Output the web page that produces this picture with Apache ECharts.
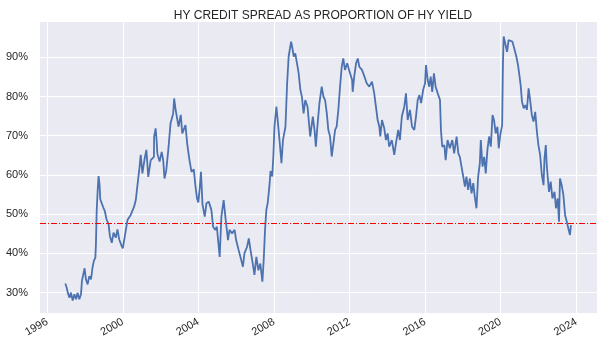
<!DOCTYPE html>
<html>
<head>
<meta charset="utf-8">
<script src="https://cdn.jsdelivr.net/npm/echarts@6/dist/echarts.min.js"></script>
<style>
  html, body { margin: 0; padding: 0; background: #fff; }
  #chart { width: 610px; height: 352px; }
</style>
</head>
<body>
<div id="chart"></div>
<script>
// dates as decimal years, values in percent
const years = [
  1996.96, 1997.03, 1997.09, 1997.18, 1997.26, 1997.35, 1997.44, 1997.53, 1997.61, 1997.70,
  1997.79, 1997.84, 1997.91, 1997.98, 1998.05, 1998.14, 1998.23, 1998.32, 1998.40, 1998.47,
  1998.55, 1998.58, 1998.62, 1998.67, 1998.72, 1998.77, 1998.81, 1998.90, 1998.97, 1999.05,
  1999.14, 1999.25, 1999.32, 1999.42, 1999.51, 1999.63, 1999.72, 1999.81, 1999.94, 2000.00,
  2000.08, 2000.16, 2000.25, 2000.42, 2000.60, 2000.69, 2000.77, 2000.90, 2000.95, 2001.04,
  2001.16, 2001.25, 2001.35, 2001.48, 2001.65, 2001.66, 2001.74, 2001.79, 2001.83, 2001.95,
  2002.06, 2002.14, 2002.21, 2002.30, 2002.41, 2002.53, 2002.67, 2002.72, 2002.80, 2002.90,
  2002.95, 2003.07, 2003.15, 2003.32, 2003.41, 2003.53, 2003.64, 2003.76, 2003.85, 2003.93,
  2004.00, 2004.08, 2004.14, 2004.22, 2004.34, 2004.43, 2004.55, 2004.69, 2004.78, 2004.90,
  2004.98, 2005.13, 2005.22, 2005.34, 2005.45, 2005.57, 2005.65, 2005.78, 2005.92, 2006.00,
  2006.13, 2006.27, 2006.36, 2006.44, 2006.58, 2006.67, 2006.76, 2006.88, 2006.97, 2007.07,
  2007.18, 2007.28, 2007.39, 2007.46, 2007.53, 2007.60, 2007.67, 2007.76, 2007.82, 2007.91,
  2007.97, 2008.03, 2008.13, 2008.20, 2008.31, 2008.40, 2008.48, 2008.61, 2008.70, 2008.78,
  2008.91, 2008.98, 2009.05, 2009.13, 2009.22, 2009.31, 2009.40, 2009.48, 2009.57, 2009.66,
  2009.78, 2009.92, 2010.06, 2010.15, 2010.22, 2010.30, 2010.41, 2010.53, 2010.62, 2010.71,
  2010.80, 2010.88, 2010.97, 2011.06, 2011.15, 2011.24, 2011.32, 2011.41, 2011.50, 2011.59,
  2011.67, 2011.76, 2011.88, 2012.03, 2012.14, 2012.17, 2012.25, 2012.35, 2012.44, 2012.52,
  2012.66, 2012.79, 2012.91, 2013.05, 2013.19, 2013.31, 2013.40, 2013.49, 2013.58, 2013.63,
  2013.72, 2013.84, 2013.93, 2014.02, 2014.10, 2014.24, 2014.37, 2014.46, 2014.58, 2014.67,
  2014.77, 2014.90, 2014.99, 2015.08, 2015.20, 2015.31, 2015.43, 2015.52, 2015.61, 2015.70,
  2015.79, 2015.90, 2016.00, 2016.05, 2016.14, 2016.22, 2016.30, 2016.38, 2016.47, 2016.56,
  2016.67, 2016.79, 2016.84, 2016.91, 2017.02, 2017.09, 2017.19, 2017.31, 2017.44, 2017.54,
  2017.67, 2017.76, 2017.84, 2017.93, 2018.02, 2018.11, 2018.19, 2018.28, 2018.37, 2018.46,
  2018.55, 2018.63, 2018.72, 2018.81, 2018.90, 2018.95, 2019.04, 2019.13, 2019.21, 2019.30,
  2019.39, 2019.48, 2019.57, 2019.65, 2019.74, 2019.83, 2019.90, 2019.98, 2020.08, 2020.12,
  2020.16, 2020.25, 2020.34, 2020.42, 2020.51, 2020.62, 2020.74, 2020.83, 2020.92, 2020.99,
  2021.06, 2021.13, 2021.22, 2021.31, 2021.39, 2021.48, 2021.57, 2021.65, 2021.74, 2021.83,
  2021.92, 2022.00, 2022.09, 2022.18, 2022.27, 2022.32, 2022.39, 2022.44, 2022.50, 2022.56,
  2022.65, 2022.74, 2022.85, 2022.93, 2023.02, 2023.09, 2023.14, 2023.23, 2023.32, 2023.41,
  2023.50, 2023.58, 2023.67, 2023.72
]
const spreadShare = [
  32.3, 31.3, 30.0, 28.7, 30.0, 28.0, 29.6, 28.3, 30.0, 28.3,
  29.6, 33.0, 33.4, 36.2, 33.4, 32.1, 34.2, 33.4, 36.4, 38.1,
  38.9, 42.3, 50.8, 55.9, 59.7, 57.6, 53.8, 53.4, 51.7, 50.8,
  48.7, 47.4, 44.4, 42.7, 45.3, 44.0, 46.1, 43.6, 41.9, 41.3,
  43.5, 45.9, 48.5, 49.8, 51.9, 53.6, 57.0, 62.5, 65.1, 60.4,
  64.2, 66.4, 59.5, 63.8, 64.6, 69.7, 71.9, 68.9, 65.5, 63.4,
  65.9, 63.8, 59.1, 61.1, 66.4, 73.2, 75.7, 79.5, 76.6, 76.6,
  72.3, 75.3, 70.6, 72.7, 68.0, 63.8, 60.8, 61.4, 57.0, 54.0,
  53.0, 57.0, 60.8, 52.5, 49.4, 52.8, 53.2, 51.1, 46.8, 46.0,
  46.8, 39.1, 49.4, 53.6, 48.5, 43.4, 46.0, 45.1, 46.0, 43.4,
  40.9, 38.3, 36.6, 40.0, 41.7, 43.8, 40.9, 37.4, 34.5, 39.1,
  35.7, 37.4, 32.8, 38.3, 46.0, 51.1, 52.8, 57.0, 61.0, 59.6,
  64.7, 72.3, 77.4, 74.0, 68.1, 63.0, 68.9, 72.3, 83.4, 90.2,
  94.0, 92.3, 90.2, 91.0, 88.5, 85.9, 81.7, 80.0, 75.7, 79.1,
  77.4, 69.8, 74.9, 71.5, 67.2, 72.3, 78.3, 82.5, 80.0, 79.1,
  75.7, 71.5, 69.8, 64.7, 68.1, 71.5, 72.3, 76.6, 82.5, 87.6,
  89.7, 86.8, 88.5, 85.9, 84.2, 81.2, 85.1, 88.5, 89.7, 87.6,
  86.8, 85.1, 83.4, 82.5, 83.8, 80.8, 77.4, 74.0, 72.3, 69.8,
  74.0, 71.9, 68.9, 70.6, 67.2, 68.9, 65.1, 68.1, 71.5, 68.9,
  74.9, 77.4, 80.8, 74.0, 76.6, 72.3, 71.5, 74.9, 79.1, 80.4,
  78.3, 81.7, 83.4, 88.0, 84.2, 82.5, 85.1, 81.2, 85.9, 82.5,
  80.8, 79.1, 71.5, 67.2, 67.6, 63.8, 68.9, 66.8, 68.9, 65.5,
  69.8, 65.5, 64.6, 62.1, 59.6, 57.0, 59.6, 56.2, 59.1, 55.3,
  57.9, 54.5, 51.5, 59.6, 63.0, 68.9, 62.1, 64.6, 60.4, 66.4,
  69.8, 67.2, 75.3, 74.0, 70.6, 72.3, 66.8, 70.2, 72.7, 88.0,
  95.3, 95.7, 91.4, 94.4, 94.0, 94.0, 91.9, 90.2, 88.0, 85.5,
  82.9, 78.7, 77.0, 77.8, 76.6, 82.1, 78.7, 75.3, 73.6, 76.1,
  71.0, 67.6, 65.1, 60.0, 57.4, 64.2, 67.6, 62.5, 59.1, 55.7,
  58.3, 54.0, 55.7, 51.5, 54.0, 48.1, 59.1, 57.4, 54.9, 49.8,
  48.1, 46.4, 44.7, 47.2
]
const averageLevel = 47.6
const yearTicks = [1996, 2000, 2004, 2008, 2012, 2016, 2020, 2024]
const pctTicks = [30, 40, 50, 60, 70, 80, 90]

const chart = echarts.init(document.getElementById('chart'), null, { renderer: 'canvas' })
const seriesData = years.map((y, i) => [y, spreadShare[i]])
const txt = '#262626'

chart.setOption({
  animation: false,
  textStyle: { fontFamily: 'Liberation Sans, Arial, sans-serif' },
  title: {
    text: 'HY CREDIT SPREAD AS PROPORTION OF HY YIELD',
    left: 318,
    top: 5,
    textAlign: 'center',
    textStyle: { color: txt, fontSize: 12, fontWeight: 'normal' }
  },
  grid: {
    left: 40, right: 13, top: 22, bottom: 39,
    show: true, backgroundColor: '#EAEAF2', borderWidth: 0
  },
  xAxis: {
    type: 'value',
    min: 1995.62,
    max: 2025.1,
    axisLine: { show: false },
    axisTick: { show: false, customValues: yearTicks },
    axisLabel: {
      customValues: yearTicks,
      rotate: 30,
      color: txt,
      fontSize: 11,
      margin: 8,
      formatter: v => String(Math.round(v))
    },
    splitLine: { show: true, lineStyle: { color: '#fff', width: 1 } }
  },
  yAxis: {
    type: 'value',
    min: 24.8,
    max: 99.0,
    axisLine: { show: false },
    axisTick: { show: false, customValues: pctTicks },
    axisLabel: {
      customValues: pctTicks,
      color: txt,
      fontSize: 11,
      margin: 12,
      formatter: v => Math.round(v) + '%'
    },
    splitLine: { show: true, lineStyle: { color: '#fff', width: 1 } }
  },
  series: [
    {
      type: 'line',
      data: seriesData,
      showSymbol: false,
      lineStyle: { color: '#4C72B0', width: 1.8 },
      z: 3
    },
    {
      // mean level, dashed red
      type: 'line',
      data: [],
      z: 4,
      markLine: {
        silent: true,
        symbol: ['none', 'none'],
        label: { show: false },
        emphasis: { disabled: true },
        data: [{
          yAxis: averageLevel,
          lineStyle: { color: '#ff0000', type: [6, 2, 1, 2], width: 1.2, opacity: 1 }
        }]
      }
    }
  ]
})
</script>
</body>
</html>
